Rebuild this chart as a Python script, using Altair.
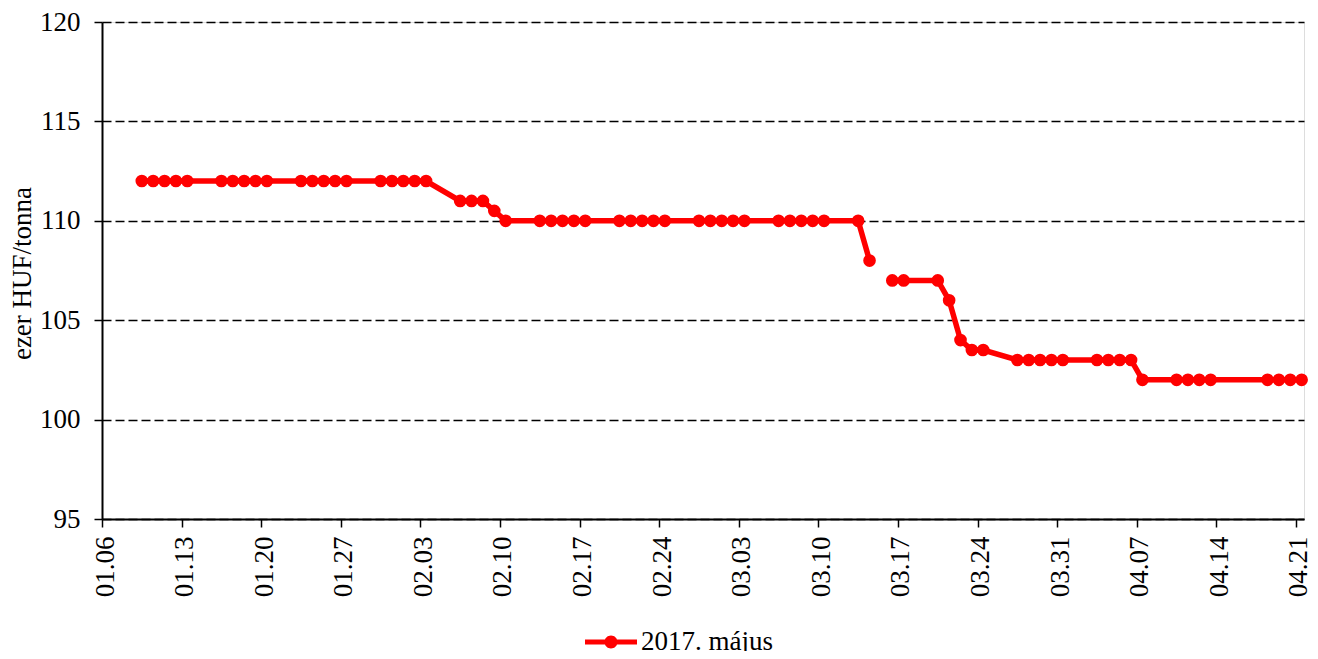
import altair as alt
import pandas as pd

dates = [
    "2017-01-09", "2017-01-10", "2017-01-11", "2017-01-12", "2017-01-13",
    "2017-01-16", "2017-01-17", "2017-01-18", "2017-01-19", "2017-01-20",
    "2017-01-23", "2017-01-24", "2017-01-25", "2017-01-26", "2017-01-27",
    "2017-01-30", "2017-01-31", "2017-02-01", "2017-02-02", "2017-02-03",
    "2017-02-06", "2017-02-07", "2017-02-08", "2017-02-09", "2017-02-10",
    "2017-02-13", "2017-02-14", "2017-02-15", "2017-02-16", "2017-02-17",
    "2017-02-20", "2017-02-21", "2017-02-22", "2017-02-23", "2017-02-24",
    "2017-02-27", "2017-02-28", "2017-03-01", "2017-03-02", "2017-03-03",
    "2017-03-06", "2017-03-07", "2017-03-08", "2017-03-09", "2017-03-10",
    "2017-03-13", "2017-03-14", "2017-03-15", "2017-03-16", "2017-03-17",
    "2017-03-20", "2017-03-21", "2017-03-22", "2017-03-23", "2017-03-24",
    "2017-03-27", "2017-03-28", "2017-03-29", "2017-03-30", "2017-03-31",
    "2017-04-03", "2017-04-04", "2017-04-05", "2017-04-06", "2017-04-07",
    "2017-04-10", "2017-04-11", "2017-04-12", "2017-04-13",
    "2017-04-18", "2017-04-19", "2017-04-20", "2017-04-21",
]
prices = [
    112, 112, 112, 112, 112,
    112, 112, 112, 112, 112,
    112, 112, 112, 112, 112,
    112, 112, 112, 112, 112,
    111, 111, 111, 110.5, 110,
    110, 110, 110, 110, 110,
    110, 110, 110, 110, 110,
    110, 110, 110, 110, 110,
    110, 110, 110, 110, 110,
    110, 108, None, 107, 107,
    107, 106, 104, 103.5, 103.5,
    103, 103, 103, 103, 103,
    103, 103, 103, 103, 102,
    102, 102, 102, 102,
    102, 102, 102, 102,
]
series_name = "2017. május"
y_ticks = [95, 100, 105, 110, 115, 120]
x_tick_days = [(1, 6), (1, 13), (1, 20), (1, 27), (2, 3), (2, 10), (2, 17), (2, 24),
               (3, 3), (3, 10), (3, 17), (3, 24), (3, 31), (4, 7), (4, 14), (4, 21)]

df = pd.DataFrame({"date": pd.to_datetime(dates), "price": prices})
df["t"] = df["date"] + pd.Timedelta(hours=12)
df["seg"] = df["price"].isna().cumsum()
df = df.dropna(subset=["price"]).reset_index(drop=True)
df["series"] = series_name
df["t"] = df["t"].dt.strftime("%Y-%m-%dT%H:%M:%S")

FONT = "Liberation Serif"
FS = 27

x_enc = alt.X(
    "t:T",
    scale=alt.Scale(domain=[alt.DateTime(year=2017, month=1, date=6),
                            alt.DateTime(year=2017, month=4, date=21, hours=17)]),
    axis=alt.Axis(
        values=[alt.DateTime(year=2017, month=m, date=d) for m, d in x_tick_days],
        format="%m.%d", labelAngle=270, labelFont=FONT, labelFontSize=FS,
        labelColor="black", tickSize=8, tickColor="black", tickWidth=1.5,
        domainColor="black", domainWidth=2, labelPadding=9, labelOffset=3,
        grid=False, title=None, labelOverlap=False, labelBound=False,
        labelFlush=False,
    ),
)
y_enc = alt.Y(
    "price:Q",
    scale=alt.Scale(domain=[95, 120], nice=False, zero=False),
    axis=alt.Axis(
        values=y_ticks, labelFont=FONT, labelFontSize=FS, labelColor="black",
        tickSize=8, tickColor="black", tickWidth=1.5, domainColor="black",
        domainWidth=2, labelPadding=14, grid=True, gridColor="black",
        gridDash=[9, 4], gridWidth=1.4, title="ezer HUF/tonna",
        titleFont=FONT, titleFontSize=FS, titleFontWeight="normal",
        titleColor="black", titleAngle=270, titleX=-80, titleY=251,
        titleAlign="center", titleBaseline="middle",
    ),
)

line = alt.Chart(df).mark_line(color="#ff0000", strokeWidth=5.5).encode(
    x=x_enc, y=y_enc, detail="seg:N"
)

legend_symbol = ("M-1,-0.1L1,-0.1L1,0.1L-1,0.1Z "
                 "M0.25,0A0.25,0.25,0,1,1,-0.25,0A0.25,0.25,0,1,1,0.25,0Z")

points = alt.Chart(df).mark_circle(size=160, opacity=1).encode(
    x=x_enc, y=y_enc,
    color=alt.Color(
        "series:N", scale=alt.Scale(range=["#ff0000"]),
        legend=alt.Legend(
            title=None, orient="none", legendX=483, legendY=594,
            symbolType=legend_symbol, symbolSize=2704, symbolFillColor="#ff0000",
            symbolStrokeWidth=0, labelFont=FONT, labelFontSize=FS,
            labelColor="black", labelOffset=4, labelLimit=400,
        ),
    ),
)

chart = alt.layer(line, points).properties(
    width=1202, height=497,
    autosize=alt.AutoSizeParams(type="none"),
    padding={"left": 94, "top": 14, "right": 6, "bottom": 132},
).configure_view(stroke=None).configure(background="white")

chart.save("out.html", embed_options={"renderer": "svg", "actions": False})
